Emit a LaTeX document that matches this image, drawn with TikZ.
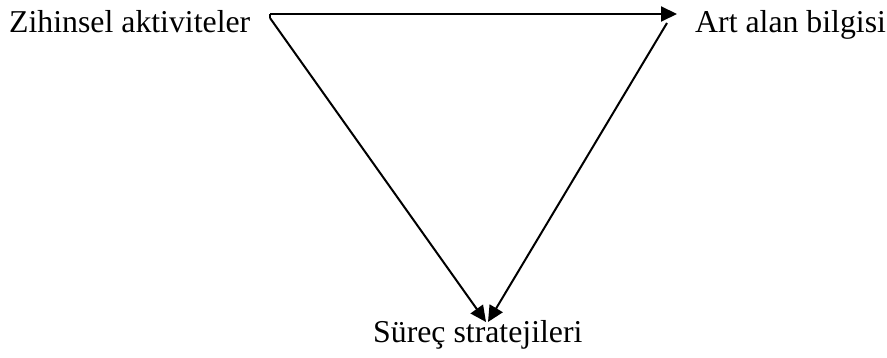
\documentclass[tikz,border=0pt]{standalone}
\usepackage{fontspec}
\setmainfont{Liberation Serif}
\usetikzlibrary{arrows.meta}
\begin{document}
\begin{tikzpicture}[x=1pt,y=-1pt,
  lbl/.style={font=\fontsize{31.8}{38}\selectfont, inner sep=0pt, anchor=base west},
  conn/.style={line width=2pt, -{Triangle[length=16pt,width=15pt]}}]
\useasboundingbox (0,0) rectangle (887,358);
\node[lbl] (zih) at (9,33) {Zihinsel aktiviteler};
\node[lbl] (art) at (695,33) {Art alan bilgisi};
\node[lbl] (sur) at (373,343) {Süreç stratejileri};
\coordinate (c1) at (270,14);
\coordinate (c2) at (270,18);
\coordinate (t1) at (677,14);
\coordinate (r1) at (667,23);
\coordinate (b1) at (486,322);
\coordinate (b2) at (488,322);
\draw[line width=2pt] (c1) -- (c2);
\draw[conn] (c1) -- (t1);
\draw[conn] (c2) -- (b1);
\draw[conn] (r1) -- (b2);
\end{tikzpicture}
\end{document}
